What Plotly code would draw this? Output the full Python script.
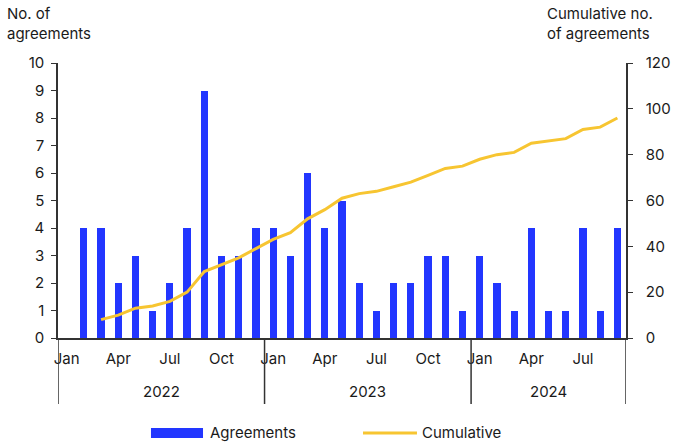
import plotly.graph_objects as go

months = ["Jan", "Feb", "Mar", "Apr", "May", "Jun", "Jul", "Aug", "Sep", "Oct", "Nov", "Dec"] * 2 + \
         ["Jan", "Feb", "Mar", "Apr", "May", "Jun", "Jul", "Aug", "Sep"]
years = ["2022", "2023", "2024"]
agreements = [0, 4, 4, 2, 3, 1, 2, 4, 9, 3, 3, 4,
              4, 3, 6, 4, 5, 2, 1, 2, 2, 3, 3, 1,
              3, 2, 1, 4, 1, 1, 4, 1, 4]
cumulative = [None, None, 8, 10, 13, 14, 16, 20, 29, 32, 35, 39,
              43, 46, 52, 56, 61, 63, 64, 66, 68, 71, 74, 75,
              78, 80, 81, 85, 86, 87, 91, 92, 96]
left_ticks = list(range(0, 11))
right_ticks = list(range(0, 121, 20))
month_tick_labels = ["Jan", "Apr", "Jul", "Oct"]

BLUE = "#2236FF"
YELLOW = "#F7C531"
AX = "#333333"
TXT = "#1a1a1a"
FONT = "Inter"

idx = list(range(len(agreements)))
fig = go.Figure()
fig.add_trace(go.Bar(x=idx, y=agreements, name="Agreements", marker_color=BLUE,
                     marker_line_width=0, width=0.42, yaxis="y"))
fig.add_trace(go.Scatter(x=idx, y=cumulative, name="Cumulative", mode="lines",
                         line=dict(color=YELLOW, width=3), yaxis="y2"))

tickvals = [i for i, m in enumerate(months) if m in month_tick_labels]
ticktext = [months[i] for i in tickvals]

fig.update_layout(
    width=673, height=446,
    margin=dict(l=58, r=47, t=63, b=108),
    paper_bgcolor="white", plot_bgcolor="white",
    showlegend=False,
    font=dict(family=FONT, size=15, color=TXT),
    bargap=0,
    xaxis=dict(range=[-0.5, len(agreements) - 0.5], tickvals=tickvals, ticktext=ticktext,
               showline=True, linecolor=AX, linewidth=1.5, ticks="", showgrid=False,
               zeroline=False, tickfont=dict(size=15), ticklabelstandoff=6, automargin=False),
    yaxis=dict(range=[0, 10], tickvals=left_ticks, showline=True, linecolor=AX, linewidth=1.5,
               ticks="outside", ticklen=5, tickcolor=AX, showgrid=False, zeroline=False,
               ticklabelstandoff=4, automargin=False),
    yaxis2=dict(range=[0, 120], tickvals=right_ticks, overlaying="y", side="right",
                showline=True, linecolor=AX, linewidth=1.5, ticks="outside", ticklen=5,
                tickcolor=AX, showgrid=False, zeroline=False, ticklabelstandoff=10,
                automargin=False),
)

# year separators and labels
bounds = [-0.5, 11.5, 23.5, len(agreements) - 0.5]
for b in bounds:
    fig.add_shape(type="line", xref="x", yref="paper", x0=b, x1=b, y0=0, y1=-0.24,
                  line=dict(color=AX, width=1.5))
for i, yr in enumerate(years):
    fig.add_annotation(x=(bounds[i] + bounds[i + 1]) / 2, xref="x", y=-0.196, yref="paper",
                       text=yr, showarrow=False, font=dict(size=15), yanchor="middle")

# axis titles
fig.add_annotation(x=-0.0933, xref="paper", y=1.223, yref="paper", text="No. of<br>agreements",
                   showarrow=False, xanchor="left", yanchor="top", align="left", font=dict(size=15))
fig.add_annotation(x=1.051, xref="paper", y=1.223, yref="paper", text="Cumulative no.<br>of agreements",
                   showarrow=False, xanchor="right", yanchor="top", align="left", font=dict(size=15))

# legend
fig.add_shape(type="rect", xref="paper", yref="paper", x0=0.1637, x1=0.2553, y0=-0.327, y1=-0.364,
              fillcolor=BLUE, line=dict(width=0))
fig.add_annotation(x=0.264, xref="paper", y=-0.345, yref="paper", text="Agreements", showarrow=False,
                   xanchor="left", yanchor="middle", font=dict(size=15))
fig.add_shape(type="line", xref="paper", yref="paper", x0=0.537, x1=0.632, y0=-0.345, y1=-0.345,
              line=dict(color=YELLOW, width=3))
fig.add_annotation(x=0.637, xref="paper", y=-0.345, yref="paper", text="Cumulative", showarrow=False,
                   xanchor="left", yanchor="middle", font=dict(size=15))

fig.write_html("out.html", config={"displayModeBar": False},
               post_script="document.body.style.margin='0';document.body.style.overflow='hidden';")
